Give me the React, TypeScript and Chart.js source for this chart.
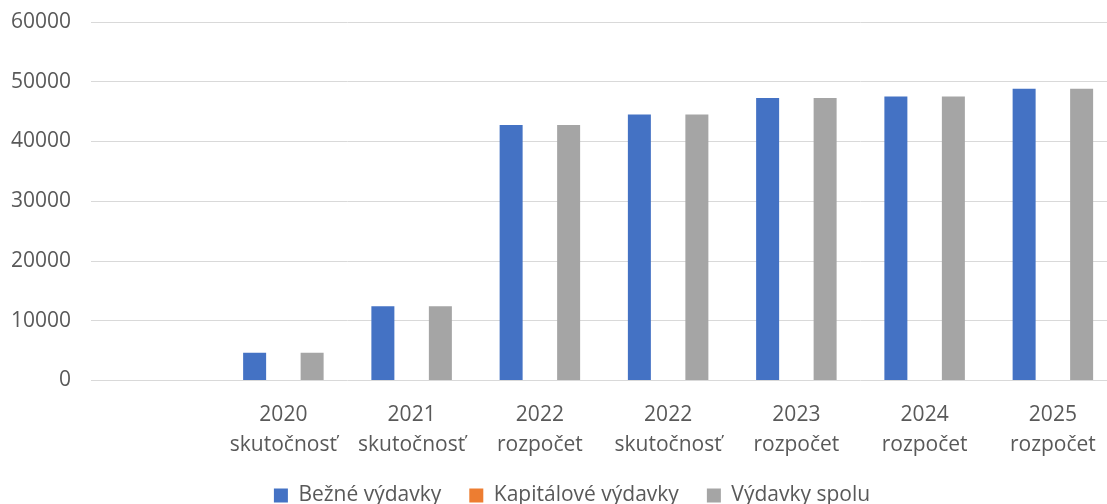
import React, { useEffect, useRef } from "react";
import { Chart, registerables } from "chart.js";

Chart.register(...registerables);

const categories: (string | string[])[] = [
  "",
  ["2020", "skutočnosť"],
  ["2021", "skutočnosť"],
  ["2022", "rozpočet"],
  ["2022", "skutočnosť"],
  ["2023", "rozpočet"],
  ["2024", "rozpočet"],
  ["2025", "rozpočet"],
];
const bezneVydavky = [null, 4650, 12430, 42770, 44500, 47300, 47520, 48820];
const kapitaloveVydavky = [null, 0, 0, 0, 0, 0, 0, 0];
const vydavkySpolu = [null, 4650, 12430, 42770, 44500, 47300, 47520, 48820];
const yTicks = [0, 10000, 20000, 30000, 40000, 50000, 60000];

const FONT = "'Open Sans', sans-serif";
const TEXT = "#595959";

export default function App() {
  const ref = useRef<HTMLCanvasElement | null>(null);
  useEffect(() => {
    if (!ref.current) return;
    const chart = new Chart(ref.current, {
      type: "bar",
      data: {
        labels: categories,
        datasets: [
          { label: "Bežné výdavky", data: bezneVydavky, backgroundColor: "#4472C4" },
          { label: "Kapitálové výdavky", data: kapitaloveVydavky, backgroundColor: "#ED7D31" },
          { label: "Výdavky spolu", data: vydavkySpolu, backgroundColor: "#A5A5A5" },
        ],
      },
      options: {
        animation: false,
        responsive: false,
        maintainAspectRatio: false,
        datasets: { bar: { categoryPercentage: 0.6725, barPercentage: 0.8 } },
        layout: { padding: { left: 0, right: 0, top: 0, bottom: 0 } },
        plugins: {
          tooltip: { enabled: false },
          legend: {
            position: "bottom",
            labels: {
              boxWidth: 14,
              boxHeight: 14,
              padding: 28,
              color: TEXT,
              font: { family: FONT, size: 21 },
            },
          },
        },
        scales: {
          x: {
            grid: { display: false, drawTicks: false },
            border: { display: false },
            afterFit: (s: any) => {
              s.height = 76.5;
              s.paddingRight = 27;
            },
            ticks: { color: TEXT, font: { family: FONT, size: 21, lineHeight: 1.45 }, padding: 19, maxRotation: 0, autoSkip: false },
          },
          y: {
            min: 0,
            max: 60000,
            afterBuildTicks: (s: any) => {
              s.ticks = yTicks.map((v) => ({ value: v }));
            },
            afterFit: (s: any) => {
              s.width = 91;
              s.paddingTop = 22;
            },
            grid: { color: "#D9D9D9", lineWidth: 1, drawTicks: false },
            border: { display: false },
            ticks: { color: TEXT, font: { family: FONT, size: 21 }, padding: 20, callback: (v: any) => String(v) },
          },
        },
      },
    });
    return () => chart.destroy();
  }, []);
  return (
    <div style={{ position: "fixed", left: 0, top: 0, width: 1107, height: 504, overflow: "hidden", background: "#fff" }}>
      <canvas ref={ref} width={1144} height={516} style={{ display: "block", width: 1144, height: 516 }} />
    </div>
  );
}
